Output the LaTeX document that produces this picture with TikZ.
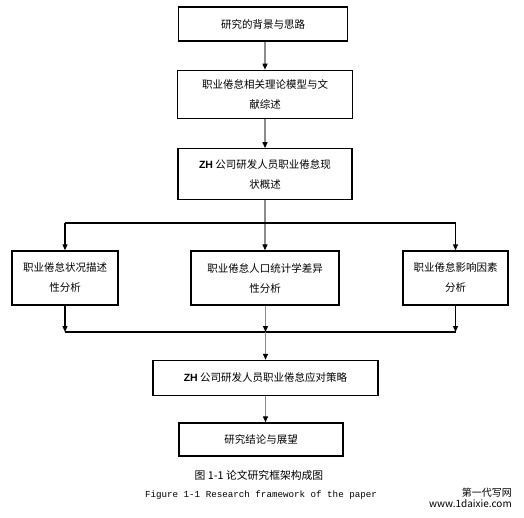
\documentclass[tikz,border=0pt]{standalone}
\usepackage{fontspec}
\newfontfamily\cjkfont{Noto Sans CJK SC}
\newfontfamily\latinfont{Liberation Sans}
\newfontfamily\codefont{Liberation Mono}
\usetikzlibrary{arrows.meta,positioning,calc}

\begin{document}
\begin{tikzpicture}[
  x=1pt, y=-1pt,
  node distance=28pt and 12pt,
  box/.style={draw, line width=1.4pt, align=center, inner sep=2pt, font=\cjkfont\fontsize{10.5}{20}\selectfont},
  link/.style={draw=black!45, line width=1.3pt, -{Triangle[length=6pt, width=5pt, color=black]}},
  arr/.style={line width=1.2pt, -{Triangle[length=6pt, width=5pt]}},
  bus/.style={line width=1.6pt}
]
  \useasboundingbox (0,0) rectangle (524,518);

  \node[box, minimum width=169pt, minimum height=34pt] (bg) at (263,24) {研究的背景与思路};
  \node[box, minimum width=175pt, minimum height=48pt, below=28pt of bg, xshift=2pt] (lit) {职业倦怠相关理论模型与文\\献综述};
  \node[box, minimum width=174pt, minimum height=51pt, below=29pt of lit] (cur) {{\latinfont\bfseries ZH} 公司研发人员职业倦怠现\\状概述};

  \node[box, minimum width=106pt, minimum height=54pt] (desc) at (65,278) {职业倦怠状况描述\\性分析};
  \node[box, minimum width=148pt, minimum height=54pt] (demo) at (265,278) {职业倦怠人口统计学差异\\性分析};
  \node[box, minimum width=105pt, minimum height=54pt] (fac) at (455.5,278) {职业倦怠影响因素\\分析};

  \node[box, minimum width=225pt, minimum height=35pt] (strat) at (265.5,378) {{\latinfont\bfseries ZH} 公司研发人员职业倦怠应对策略};
  \node[box, minimum width=164pt, minimum height=33pt] (concl) at (261,439.5) {研究结论与展望};

  \node[font=\cjkfont\fontsize{10.8}{12}\selectfont] (capcn) at (259,475) {图 1-1 论文研究框架构成图};
  \node[font=\codefont\fontsize{9.2}{11}\selectfont] (capen) at (261,495) {Figure 1-1 Research framework of the paper};
  \node[anchor=east, align=right, inner sep=0pt, font=\cjkfont\fontsize{10}{11}\selectfont] (mark) at (512,498) {第一代写网\\www.1daixie.com};

  \coordinate (split) at (265.5,223);
  \coordinate (join) at (265.5,332);

  \draw[link] (lit |- bg.south) -- (lit);
  \draw[link] (lit) -- (cur);
  \draw[link] (cur) -- (cur |- demo.north);
  \draw[bus] (desc |- split) -- (fac |- split);
  \draw[arr] (desc |- split) -- (desc);
  \draw[arr] (fac |- split) -- (fac);

  \draw[arr] (desc) -- (desc |- join);
  \draw[link] (demo.south -| join) -- (join);
  \draw[arr] (fac) -- (fac |- join);
  \draw[bus] (desc |- join) -- (fac |- join);
  \draw[link] (join) -- (strat);
  \draw[link] (strat) -- (strat |- concl.north);
\end{tikzpicture}
\end{document}
